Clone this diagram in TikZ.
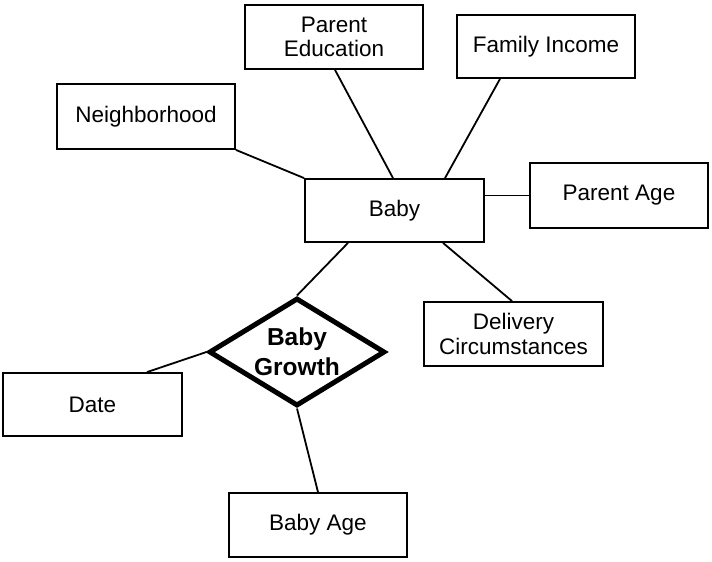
\documentclass[tikz,border=0pt]{standalone}
\usepackage{fontspec}
\setmainfont{Liberation Sans}
\usetikzlibrary{shapes.geometric}
\tikzset{
  ent/.style={draw, line width=1.8pt, rectangle, inner sep=0pt, minimum width=178pt, minimum height=64pt, align=center, font=\fontsize{22.5}{24.5}\selectfont},
  rel/.style={draw, line width=5pt, diamond, aspect=1.6, inner sep=0pt, minimum width=176pt, minimum height=108pt, align=center, font=\bfseries\fontsize{24.5}{30}\selectfont},
  link/.style={line width=1.8pt}
}
\begin{document}
\begin{tikzpicture}[x=1pt,y=-1pt]
\useasboundingbox (0,0) rectangle (712,562);
\node[ent] (pe) at (334,37) {Parent\\Education};
\node[ent, minimum height=63pt] (fi) at (546,46.5) {Family Income};
\node[ent, minimum height=65pt] (nb) at (146,116.5) {Neighborhood};
\node[ent, minimum width=179pt, minimum height=63pt] (baby) at (394.5,210.5) {Baby};
\node[ent, minimum height=65pt] (pa) at (619,195.5) {Parent Age};
\node[ent, minimum width=179pt] (dc) at (513.5,334) {Delivery\\Circumstances};
\node[rel] (bg) at (297,352) {Baby\\Growth};
\node[ent, minimum width=179pt, minimum height=63pt] (date) at (92.5,404.5) {Date};
\node[ent] (ba) at (318,525) {Baby Age};

\draw[link] ([xshift=1pt]pe.south) -- ([xshift=-1.5pt]baby.north);
\draw[link] ([xshift=-46pt]fi.south) -- ([xshift=50.5pt]baby.north);
\draw[link] (nb.south east) -- (baby.north west);
\draw[link] (pa.west) -- (pa.west -| baby.east);
\draw[link] ([xshift=48.5pt]baby.south) -- ([xshift=-1.5pt]dc.north);
\draw[link] (bg.north) -- ([xshift=-46.5pt]baby.south);
\draw[link] (bg.west) -- ([xshift=54.5pt]date.north);
\draw[link] (bg.south) -- (ba.north);
\end{tikzpicture}
\end{document}
